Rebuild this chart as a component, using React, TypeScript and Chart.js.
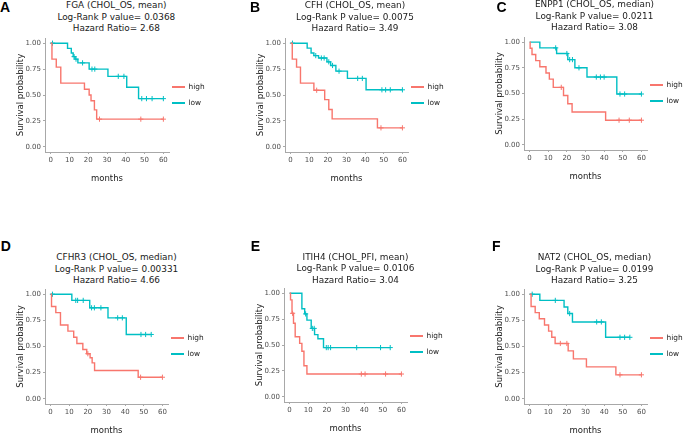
import React, { useEffect, useRef } from 'react';
import { Chart, registerables } from 'chart.js';

Chart.register(...registerables);

const FONT = "'DejaVu Sans', Verdana, sans-serif";
Chart.defaults.font.family = FONT;

// ---------- shared labels ----------
const groupNames = ['high', 'low'];
const groupColors = ['#F8766D', '#00BFC4'];
const xTickValues = [0, 10, 20, 30, 40, 50, 60];
const yTickValues = [0, 0.25, 0.5, 0.75, 1];
const yTickLabels = ['0.00', '0.25', '0.50', '0.75', '1.00'];
const xAxisTitle = 'months';
const yAxisTitle = 'Survival probability';

const panelLetters = ['A', 'B', 'C', 'D', 'E', 'F'];
const panelHeadings = [
  'FGA (CHOL_OS, mean)',
  'CFH (CHOL_OS, mean)',
  'ENPP1 (CHOL_OS, median)',
  'CFHR3 (CHOL_OS, median)',
  'ITIH4 (CHOL_PFI, mean)',
  'NAT2 (CHOL_OS, median)',
];
const pValues = ['0.0368', '0.0075', '0.0211', '0.00331', '0.0106', '0.0199'];
const hazardRatios = ['2.68', '3.49', '3.08', '4.66', '3.04', '3.25'];

// ---------- A: FGA ----------
const fgaHighTime = [0, 0.7, 3, 5.4, 18, 20.5, 21.5, 23.3, 24.5];
const fgaHighSurv = [1, 0.846, 0.769, 0.615, 0.556, 0.5, 0.444, 0.356, 0.267];
const fgaHighCensor = [26, 48, 60];
const fgaLowTime = [0, 9, 11, 12, 13, 14.5, 20.5, 30.5, 40.5, 46.8];
const fgaLowSurv = [1, 0.95, 0.905, 0.87, 0.846, 0.81, 0.75, 0.68, 0.575, 0.465];
const fgaLowCensor = [1, 12.5, 13.5, 17, 22, 23.5, 36, 39, 48.5, 51, 54, 60];

// ---------- B: CFH ----------
const cfhHighTime = [0, 0.9, 3.2, 5.3, 12.5, 18.3, 20.5, 22.3, 46.6];
const cfhHighSurv = [1, 0.846, 0.769, 0.615, 0.546, 0.455, 0.36, 0.27, 0.183];
const cfhHighCensor = [14, 48.5, 60];
const cfhLowTime = [0, 8.9, 11, 12.5, 15, 19.5, 21.5, 24.3, 30.5, 40.5];
const cfhLowSurv = [1, 0.952, 0.905, 0.88, 0.857, 0.82, 0.785, 0.73, 0.66, 0.55];
const cfhLowCensor = [1, 13.5, 16.5, 18, 20.5, 22.5, 26, 36, 38.5, 49, 51, 53.5, 60];

// ---------- C: ENPP1 ----------
const enppHighTime = [0, 0.3, 1.3, 3.3, 5.5, 8.8, 10.6, 12.7, 18.2, 20.5, 22.8, 40.8];
const enppHighSurv = [1, 0.94, 0.88, 0.82, 0.76, 0.7, 0.64, 0.56, 0.48, 0.4, 0.32, 0.24];
const enppHighCensor = [17, 48, 53.5, 60];
const enppLowTime = [0, 5.5, 14.5, 20.5, 24.3, 30.8, 46.8];
const enppLowSurv = [1, 0.944, 0.889, 0.83, 0.75, 0.66, 0.495];
const enppLowCensor = [14, 20, 21.5, 23, 26.5, 35.8, 38, 40, 48.5, 51, 60];

// ---------- D: CFHR3 ----------
const cfhr3HighTime = [0, 0.5, 2.8, 5.3, 9.3, 12.4, 14.1, 17.3, 19.4, 21.2, 22.3, 23.6, 47];
const cfhr3HighSurv = [1, 0.882, 0.824, 0.706, 0.647, 0.588, 0.529, 0.471, 0.431, 0.392, 0.343, 0.27, 0.206];
const cfhr3HighCensor = [20, 48.3, 60];
const cfhr3LowTime = [0, 11.4, 21, 30.8, 40.6];
const cfhr3LowSurv = [1, 0.941, 0.87, 0.774, 0.615];
const cfhr3LowCensor = [1, 13.5, 14.5, 17.5, 22, 23.5, 27, 36, 38.5, 48.5, 51, 54];

// ---------- E: ITIH4 ----------
const itihHighTime = [0, 0.5, 1.3, 2.1, 3, 5.4, 6.6, 7.7, 9.3];
const itihHighSurv = [1, 0.935, 0.806, 0.71, 0.58, 0.516, 0.44, 0.3, 0.22];
const itihHighCensor = [1.6, 38.5, 40.5, 51.5, 60];
const itihLowTime = [0, 6.6, 8.1, 9.3, 11.6, 13.4, 15.2, 18.2];
const itihLowSurv = [1, 0.85, 0.8, 0.74, 0.66, 0.6, 0.56, 0.475];
const itihLowCensor = [8.6, 12.2, 13.2, 19.7, 20.7, 22, 36, 48.8, 54];

// ---------- F: NAT2 ----------
const nat2HighTime = [0, 0.8, 3, 5.2, 8, 10.2, 11.9, 13.7, 20.7, 23.5, 30.5, 46.3];
const nat2HighSurv = [1, 0.882, 0.824, 0.765, 0.706, 0.647, 0.588, 0.529, 0.458, 0.382, 0.305, 0.229];
const nat2HighCensor = [16.5, 20, 48.5, 60];
const nat2LowTime = [0, 5.5, 18.5, 20.5, 23, 40.8];
const nat2LowSurv = [1, 0.941, 0.878, 0.815, 0.735, 0.588];
const nat2LowCensor = [1.4, 13.8, 21.5, 36, 38.5, 48.5, 51, 53.8];

type Series = { times: number[]; surv: number[]; censor: number[] };

const panelSeries: Series[][] = [
  [
    { times: fgaHighTime, surv: fgaHighSurv, censor: fgaHighCensor },
    { times: fgaLowTime, surv: fgaLowSurv, censor: fgaLowCensor },
  ],
  [
    { times: cfhHighTime, surv: cfhHighSurv, censor: cfhHighCensor },
    { times: cfhLowTime, surv: cfhLowSurv, censor: cfhLowCensor },
  ],
  [
    { times: enppHighTime, surv: enppHighSurv, censor: enppHighCensor },
    { times: enppLowTime, surv: enppLowSurv, censor: enppLowCensor },
  ],
  [
    { times: cfhr3HighTime, surv: cfhr3HighSurv, censor: cfhr3HighCensor },
    { times: cfhr3LowTime, surv: cfhr3LowSurv, censor: cfhr3LowCensor },
  ],
  [
    { times: itihHighTime, surv: itihHighSurv, censor: itihHighCensor },
    { times: itihLowTime, surv: itihLowSurv, censor: itihLowCensor },
  ],
  [
    { times: nat2HighTime, surv: nat2HighSurv, censor: nat2HighCensor },
    { times: nat2LowTime, surv: nat2LowSurv, censor: nat2LowCensor },
  ],
];

// ---------- layout (plot-area boxes in page pixels) ----------
type Box = {
  left: number; top: number; right: number; bottom: number;
  titleX: number; titleTop: number; letterX: number; letterTop: number; legendTop: number;
};
const panelBoxes: Box[] = [
  { left: 45, top: 38, right: 169, bottom: 152, titleX: 116.3, titleTop: 0.3, letterX: 0, letterTop: 0, legendTop: 82 },
  { left: 285, top: 38, right: 408, bottom: 152, titleX: 355, titleTop: 0.3, letterX: 250, letterTop: 0, legendTop: 82 },
  { left: 524, top: 37, right: 647, bottom: 150, titleX: 594.5, titleTop: -0.7, letterX: 496.5, letterTop: 0, legendTop: 80 },
  { left: 45, top: 289, right: 168, bottom: 404, titleX: 116.5, titleTop: 252, letterX: 0.7, letterTop: 238.5, legendTop: 333 },
  { left: 284, top: 288, right: 407, bottom: 402, titleX: 355.5, titleTop: 251.5, letterX: 250.7, letterTop: 238.5, legendTop: 331 },
  { left: 524, top: 289, right: 647, bottom: 404, titleX: 594.5, titleTop: 252, letterX: 492, letterTop: 238.5, legendTop: 333 },
];

const Y_AXIS_W = 29;
const X_AXIS_H = 32;
const PAD_TOP = 8;
const PAD_RIGHT = 6;
const AXIS_GREY = '#a8a8a8';

function survAt(s: Series, t: number): number {
  let v = s.surv[0];
  for (let i = 0; i < s.times.length; i++) {
    if (s.times[i] <= t) v = s.surv[i];
  }
  return v;
}

function KMPlot({ series, box }: { series: Series[]; box: Box }) {
  const ref = useRef<HTMLCanvasElement>(null);
  const w = box.right - box.left + Y_AXIS_W + PAD_RIGHT;
  const h = box.bottom - box.top + PAD_TOP + X_AXIS_H;

  useEffect(() => {
    if (!ref.current) return;
    const datasets: any[] = [];
    series.forEach((s, gi) => {
      const end = Math.max(s.times[s.times.length - 1], ...s.censor);
      const line = s.times.map((t, i) => ({ x: t, y: s.surv[i] }));
      line.push({ x: end, y: s.surv[s.surv.length - 1] });
      datasets.push({
        label: groupNames[gi],
        data: line,
        stepped: 'before',
        borderColor: groupColors[gi],
        backgroundColor: groupColors[gi],
        borderWidth: 1.4,
        pointRadius: 0,
        fill: false,
      });
      datasets.push({
        label: groupNames[gi] + ' censored',
        data: s.censor.map((c) => ({ x: c, y: survAt(s, c) })),
        showLine: false,
        pointStyle: 'cross',
        pointRadius: 2.6,
        pointBorderWidth: 1,
        borderColor: groupColors[gi],
        backgroundColor: groupColors[gi],
      });
    });

    const chart = new Chart(ref.current, {
      type: 'line',
      data: { datasets },
      options: {
        animation: false,
        responsive: false,
        maintainAspectRatio: false,
        layout: { padding: { left: 0, top: PAD_TOP, right: PAD_RIGHT, bottom: 0 } },
        plugins: { legend: { display: false }, tooltip: { enabled: false }, title: { display: false } },
        scales: {
          x: {
            type: 'linear',
            min: -3,
            max: 63,
            afterBuildTicks: (sc: any) => {
              sc.ticks = xTickValues.map((v) => ({ value: v }));
            },
            afterFit: (sc: any) => {
              sc.height = X_AXIS_H;
            },
            grid: { display: true, drawOnChartArea: false, drawTicks: true, tickLength: 2, color: AXIS_GREY, lineWidth: 1 },
            border: { display: true, color: AXIS_GREY, width: 1 },
            ticks: {
              padding: 2,
              color: '#4d4d4d',
              font: { size: 7, family: FONT },
              autoSkip: false,
              maxRotation: 0,
              callback: (v: any) => String(v),
            },
            title: { display: true, text: xAxisTitle, padding: 0, color: '#1a1a1a', font: { size: 8.5, family: FONT } },
          },
          y: {
            type: 'linear',
            min: -0.05,
            max: 1.05,
            afterBuildTicks: (sc: any) => {
              sc.ticks = yTickValues.map((v) => ({ value: v }));
            },
            afterFit: (sc: any) => {
              sc.width = Y_AXIS_W;
            },
            grid: { display: true, drawOnChartArea: false, drawTicks: true, tickLength: 2, color: AXIS_GREY, lineWidth: 1 },
            border: { display: true, color: AXIS_GREY, width: 1 },
            ticks: {
              padding: 2,
              color: '#4d4d4d',
              font: { size: 7, family: FONT },
              autoSkip: false,
              callback: (_v: any, i: number) => yTickLabels[i],
            },
            title: { display: true, text: yAxisTitle, padding: 0, color: '#1a1a1a', font: { size: 8.5, family: FONT } },
          },
        },
      } as any,
    });
    return () => chart.destroy();
  }, []);

  return (
    <canvas
      ref={ref}
      width={w}
      height={h}
      style={{
        position: 'absolute',
        left: box.left - Y_AXIS_W,
        top: box.top - PAD_TOP,
        width: w,
        height: h,
      }}
    />
  );
}

function Panel({ index }: { index: number }) {
  const box = panelBoxes[index];
  const lines = [panelHeadings[index], 'Log-Rank P value= ' + pValues[index], 'Hazard Ratio= ' + hazardRatios[index]];
  return (
    <>
      <div
        style={{
          position: 'absolute',
          left: box.letterX,
          top: box.letterTop,
          fontFamily: "'Liberation Sans', Arial, sans-serif",
          fontWeight: 'bold',
          fontSize: 14,
          lineHeight: '14px',
          color: '#000',
        }}
      >
        {panelLetters[index]}
      </div>
      <div
        style={{
          position: 'absolute',
          left: box.titleX - 100,
          top: box.titleTop,
          width: 200,
          textAlign: 'center',
          fontFamily: FONT,
          fontSize: 8.9,
          lineHeight: '11.5px',
          color: '#1a1a1a',
          whiteSpace: 'nowrap',
        }}
      >
        {lines.map((l, i) => (
          <div key={i}>{l}</div>
        ))}
      </div>
      <KMPlot series={panelSeries[index]} box={box} />
      {groupNames.map((g, gi) => (
        <div
          key={g}
          style={{
            position: 'absolute',
            left: box.right + 3,
            top: box.legendTop + gi * 16,
            height: 10,
            whiteSpace: 'nowrap',
          }}
        >
          <div
            style={{
              position: 'absolute',
              left: 0,
              top: 4,
              width: 13,
              height: 2,
              background: groupColors[gi],
            }}
          />
          <div
            style={{
              position: 'absolute',
              left: 16.5,
              top: 0,
              fontFamily: FONT,
              fontSize: 7.4,
              lineHeight: '10px',
              color: '#1a1a1a',
            }}
          >
            {g}
          </div>
        </div>
      ))}
    </>
  );
}

export default function App() {
  return (
    <div
      style={{
        position: 'absolute',
        left: 0,
        top: 0,
        width: 683,
        height: 434,
        overflow: 'hidden',
        background: '#fff',
      }}
    >
      {panelLetters.map((_, i) => (
        <Panel key={i} index={i} />
      ))}
    </div>
  );
}
